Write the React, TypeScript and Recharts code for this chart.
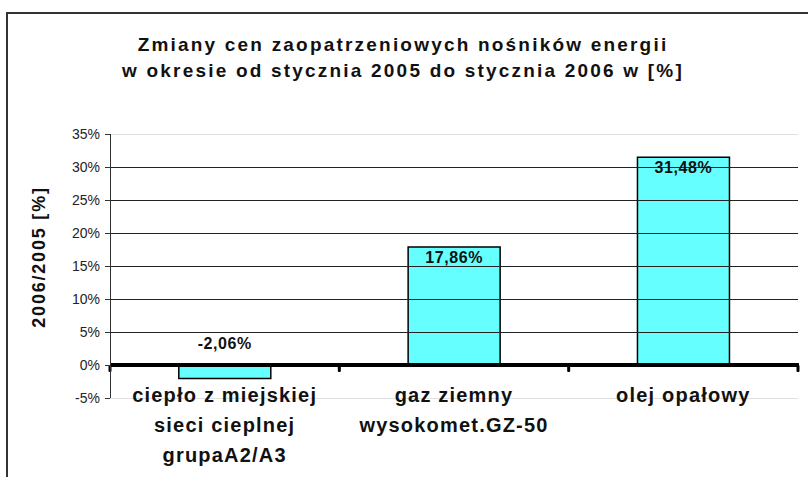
import { BarChart, Bar, XAxis, YAxis, ReferenceLine, LabelList } from "recharts";

// dane z wykresu
const categories = [
  "ciepło z miejskiej\nsieci cieplnej\ngrupaA2/A3",
  "gaz ziemny\nwysokomet.GZ-50",
  "olej opałowy",
];
const changes = [-2.06, 17.86, 31.48];
const yTicks = [-5, 0, 5, 10, 15, 20, 25, 30, 35];
const gridTicks = [5, 10, 15, 20, 25, 30];
const edgeTicks = [-5, 35];

const titleLines = [
  "Zmiany cen zaopatrzeniowych nośników energii",
  "w okresie od stycznia 2005 do stycznia 2006 w [%]",
];
const yLabel = "2006/2005 [%]";

const data = categories.map((name, i) => ({ name, value: changes[i] }));

const FONT = '"Liberation Sans", Arial, sans-serif';

const CategoryTick = ({ x, y, payload }: any) => {
  const lines = String(payload.value).split("\n");
  return (
    <text
      x={x}
      y={y}
      textAnchor="middle"
      fontFamily={FONT}
      fontSize={20}
      fontWeight="bold"
      fill="#111"
      style={{ letterSpacing: 1.2 }}
    >
      {lines.map((line, i) => (
        <tspan key={i} x={x} dy={i === 0 ? 4 : 30}>
          {line}
        </tspan>
      ))}
    </text>
  );
};

const ValueLabel = (props: any) => {
  const { x, y, width, height, value } = props;
  const top = Math.min(y, y + height);
  const cx = x + width / 2;
  const ly = value >= 0 ? top + 16 : top - 16;
  return (
    <text
      x={cx}
      y={ly}
      textAnchor="middle"
      fontFamily={FONT}
      fontSize={16}
      fontWeight="bold"
      fill="#111"
      style={{ letterSpacing: 0.6 }}
    >
      {`${Number(value).toFixed(2).replace(".", ",")}%`}
    </text>
  );
};

// linia zera z kreskami na granicach kategorii
const renderZeroAxis = (props: any) => {
  const { x1, y1, x2 } = props;
  const step = (x2 - x1) / categories.length;
  return (
    <g className="zero-axis">
      <rect x={x1} y={y1 - 2} width={x2 - x1 + 1} height={4} fill="#000" />
      {categories.concat([""]).map((_, i) => (
        <rect
          key={i}
          x={x1 + i * step - 1.5}
          y={y1}
          width={3}
          height={7}
          rx={1}
          fill="#000"
        />
      ))}
    </g>
  );
};

export default function App() {
  return (
    <div
      style={{
        position: "absolute",
        left: 0,
        top: 0,
        width: 808,
        height: 477,
        overflow: "hidden",
        background: "#fff",
      }}
    >
      <style>{`
        .recharts-reference-line line,
        .recharts-yAxis line { shape-rendering: crispEdges; }
      `}</style>
      <div
        style={{
          position: "absolute",
          left: 6,
          top: 12,
          width: 900,
          height: 600,
          borderTop: "2px solid #333",
          borderLeft: "2px solid #333",
        }}
      />
      <BarChart
        width={808}
        height={477}
        data={data}
        margin={{ top: 134, right: 10, left: 50, bottom: 0 }}
        barCategoryGap="30%"
      >
        {edgeTicks.map((v) => (
          <ReferenceLine key={`e${v}`} y={v} stroke="#e0e0e0" strokeWidth={1} />
        ))}
        {gridTicks.map((v) => (
          <ReferenceLine key={`g${v}`} y={v} stroke="#222" strokeWidth={1} />
        ))}
        <XAxis
          dataKey="name"
          height={79}
          axisLine={false}
          tickLine={false}
          tickSize={0}
          tickMargin={0}
          interval={0}
          tick={<CategoryTick />}
        />
        <YAxis
          width={60}
          domain={[-5, 35]}
          ticks={yTicks}
          interval={0}
          tickFormatter={(v) => `${v}%`}
          axisLine={{ stroke: "#333", strokeWidth: 1 }}
          tickLine={{ stroke: "#333", strokeWidth: 1 }}
          tickSize={5}
          tickMargin={5}
          tick={{ fontFamily: FONT, fontSize: 14, fill: "#222" }}
        />
        <Bar
          dataKey="value"
          fill="#66FFFF"
          stroke="#000"
          strokeWidth={1.5}
          isAnimationActive={false}
        >
          <LabelList dataKey="value" content={<ValueLabel />} />
        </Bar>
        <ReferenceLine y={0} shape={renderZeroAxis} />
      </BarChart>
      <svg
        width={808}
        height={477}
        style={{ position: "absolute", left: 0, top: 0, pointerEvents: "none" }}
      >
        {titleLines.map((line, i) => (
          <text
            key={i}
            x={403}
            y={51 + i * 26}
            textAnchor="middle"
            fontFamily={FONT}
            fontSize={19}
            fontWeight="bold"
            fill="#111"
            style={{ letterSpacing: 2.2 }}
          >
            {line}
          </text>
        ))}
        <text
          x={39}
          y={257}
          transform="rotate(-90 39 257)"
          textAnchor="middle"
          dominantBaseline="central"
          fontFamily={FONT}
          fontSize={18}
          fontWeight="bold"
          fill="#111"
          style={{ letterSpacing: 1.8 }}
        >
          {yLabel}
        </text>
      </svg>
    </div>
  );
}
